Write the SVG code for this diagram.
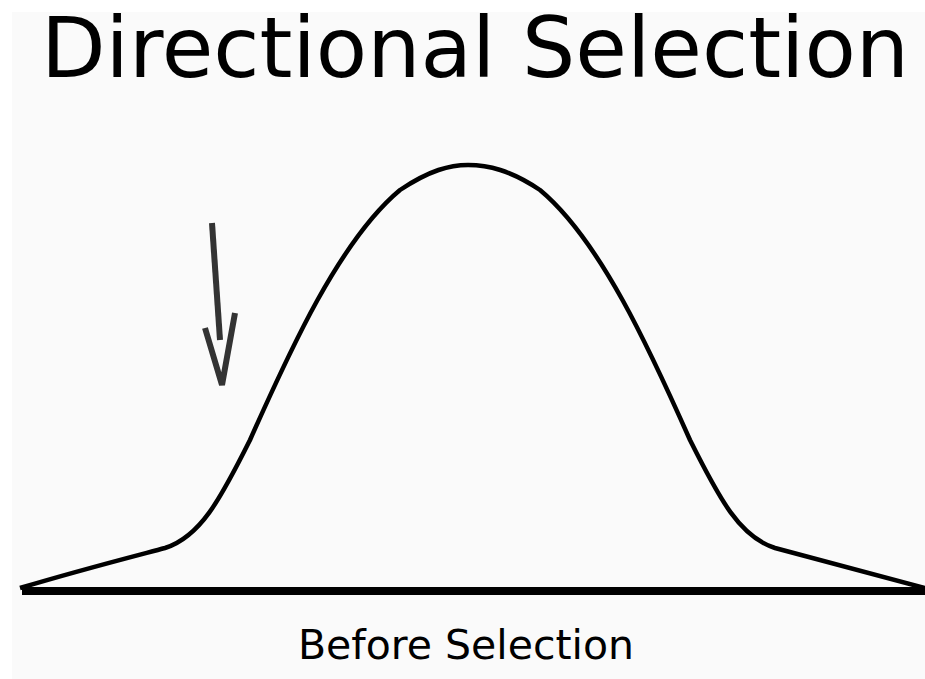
<svg xmlns="http://www.w3.org/2000/svg" width="925" height="679" viewBox="0 0 925 679">
<style>
.t{font-family:"DejaVu Sans","Liberation Sans",sans-serif;fill:#000;text-anchor:middle}
.curve{fill:none;stroke:#000;stroke-width:4.5;stroke-linejoin:round}
.arrow{fill:none;stroke:#333;stroke-width:6;stroke-linecap:butt;stroke-linejoin:miter}
</style>
<rect x="0" y="0" width="925" height="679" fill="#ffffff"/>
<rect x="12" y="12" width="913" height="667" fill="#fafafa"/>
<g id="title"><text class="t" x="475" y="77" font-size="84">Directional Selection</text></g>
<g id="axis"><line x1="22" y1="591" x2="925" y2="591" stroke="#000" stroke-width="8"/></g>
<g id="distribution"><path class="curve" d="M20,588 C80,570 135,556 165,548 C200,537 220,500 250,440 C290,350 340,240 400,190 C430,170 450,165 468,165 C488,165 510,170 540,190 C600,240 650,350 690,440 C720,500 740,537 775,548 C805,556 865,572 925,588"/></g>
<g id="arrow"><path class="arrow" d="M212,223 L220,340"/><path class="arrow" d="M205,328 L222,385 L235,313"/></g>
<g id="label"><text class="t" x="466" y="659" font-size="41">Before Selection</text></g>
</svg>
